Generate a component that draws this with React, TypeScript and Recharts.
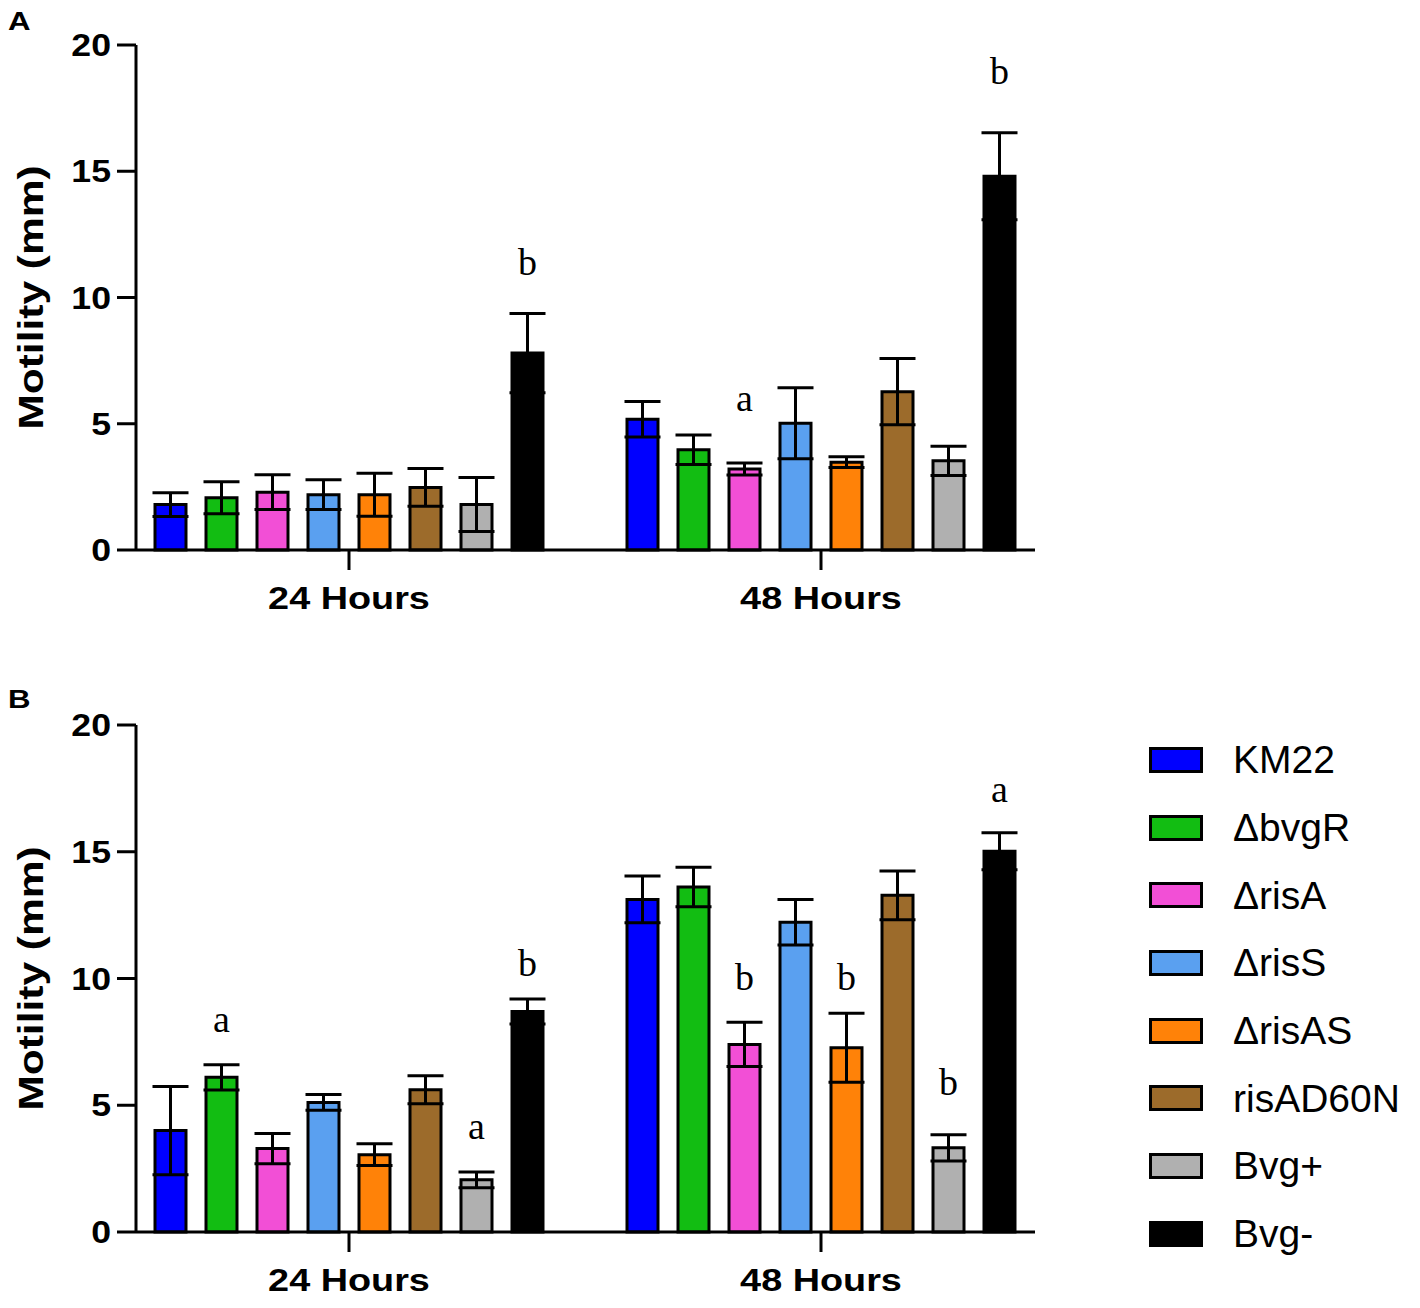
import React from "react";
import { BarChart, Bar, XAxis, YAxis, ErrorBar, Legend } from "recharts";

const CATEGORIES = ["24 Hours", "48 Hours"];
const STRAINS = ["KM22", "ΔbvgR", "ΔrisA", "ΔrisS", "ΔrisAS", "risAD60N", "Bvg+", "Bvg-"];
const COLORS = ["#0000ff", "#12bd12", "#f24fd6", "#5aa0f0", "#ff8208", "#9c6b2b", "#b0b0b0", "#000000"];
const Y_TICKS = [0, 5, 10, 15, 20];

// panel A: mean per strain [24h, 48h]
const MEANS_A = [
  [1.8, 5.18],
  [2.07, 3.97],
  [2.29, 3.21],
  [2.19, 5.02],
  [2.19, 3.48],
  [2.48, 6.27],
  [1.8, 3.53],
  [7.8, 14.8],
];
const ERRS_A = [
  [0.47, 0.7],
  [0.63, 0.58],
  [0.69, 0.24],
  [0.59, 1.41],
  [0.85, 0.21],
  [0.75, 1.31],
  [1.07, 0.58],
  [1.57, 1.72],
];
// significance letters: strain index, category index, letter, baseline height
const SIGS_A = [
  { s: 7, c: 0, letter: "b", at: 10.9 },
  { s: 2, c: 1, letter: "a", at: 5.49 },
  { s: 7, c: 1, letter: "b", at: 18.44 },
];

// panel B
const MEANS_B = [
  [4.0, 13.12],
  [6.1, 13.61],
  [3.29, 7.4],
  [5.11, 12.22],
  [3.05, 7.27],
  [5.61, 13.28],
  [2.06, 3.32],
  [8.7, 15.02],
];
const ERRS_B = [
  [1.74, 0.92],
  [0.5, 0.78],
  [0.6, 0.87],
  [0.31, 0.9],
  [0.43, 1.36],
  [0.55, 0.96],
  [0.31, 0.52],
  [0.49, 0.73],
];
const SIGS_B = [
  { s: 1, c: 0, letter: "a", at: 7.87 },
  { s: 6, c: 0, letter: "a", at: 3.65 },
  { s: 7, c: 0, letter: "b", at: 10.09 },
  { s: 2, c: 1, letter: "b", at: 9.53 },
  { s: 4, c: 1, letter: "b", at: 9.53 },
  { s: 6, c: 1, letter: "b", at: 5.42 },
  { s: 7, c: 1, letter: "a", at: 16.96 },
];

const SANS = "'Liberation Sans', Arial, Helvetica, sans-serif";
const SERIF = "'Liberation Serif', 'Times New Roman', serif";

const buildRows = (means: number[][], errs: number[][]) =>
  CATEGORIES.map((category, ci) => {
    const row: Record<string, any> = { category };
    STRAINS.forEach((_, si) => {
      row[`m${si}`] = means[si][ci];
      row[`e${si}`] = errs[si][ci];
    });
    return row;
  });

const YTick = ({ x, y, payload }: any) => (
  <g transform={`translate(${x},${y})`}>
    <text
      transform="scale(1.15,1)"
      textAnchor="end"
      dy={11}
      fontSize={31}
      fontWeight="bold"
      fontFamily={SANS}
      fill="#000"
    >
      {payload.value}
    </text>
  </g>
);

const XTick = ({ x, y, payload }: any) => (
  <g transform={`translate(${x},${y})`}>
    <text
      transform="scale(1.22,1)"
      textAnchor="middle"
      y={37}
      fontSize={31}
      fontWeight="bold"
      fontFamily={SANS}
      fill="#000"
    >
      {payload.value}
    </text>
  </g>
);

const LegendBox = () => (
  <div style={{ display: "flex", flexDirection: "column" }}>
    {STRAINS.map((s, i) => (
      <div key={s} style={{ height: 67.7, display: "flex", alignItems: "center" }}>
        <div
          style={{
            width: 48,
            height: 20,
            background: COLORS[i],
            border: "3px solid #000",
          }}
        />
        <span
          style={{
            marginLeft: 30,
            fontSize: 39,
            lineHeight: 1,
            fontFamily: SANS,
            color: "#000",
          }}
        >
          {s}
        </span>
      </div>
    ))}
  </div>
);

interface PanelProps {
  means: number[][];
  errs: number[][];
  sigs: { s: number; c: number; letter: string; at: number }[];
  height: number;
  plotH: number;
  showLegend?: boolean;
}

const TOP = 45;

const Panel: React.FC<PanelProps> = ({ means, errs, sigs, height, plotH, showLegend }) => {
  const data = buildRows(means, errs);
  const ppu = plotH / 20;

  const sigLabel = (si: number) => (props: any) => {
    const vb = props.viewBox || props;
    const x = vb.x ?? props.x;
    const y = vb.y ?? props.y;
    const w = vb.width ?? props.width;
    const h = vb.height ?? props.height;
    const sig = sigs.find((g) => g.s === si && g.c === props.index);
    if (!sig) return null;
    const zeroY = y + h;
    return (
      <text
        x={x + w / 2}
        y={zeroY - sig.at * ppu}
        textAnchor="middle"
        fontSize={38}
        fontFamily={SERIF}
        fill="#000"
      >
        {sig.letter}
      </text>
    );
  };

  return (
    <BarChart
      width={1420}
      height={height}
      data={data}
      barGap={20}
      margin={{ top: TOP, right: 385, left: 0, bottom: height - TOP - plotH - 70 }}
    >
      <XAxis
        dataKey="category"
        height={70}
        padding={{ left: -23, right: -22 }}
        axisLine={{ stroke: "#000", strokeWidth: 3 }}
        tickLine={{ stroke: "#000", strokeWidth: 3 }}
        tickSize={20}
        tickMargin={2}
        tick={<XTick />}
      />
      <YAxis
        width={136}
        domain={[0, 20]}
        ticks={Y_TICKS}
        axisLine={{ stroke: "#000", strokeWidth: 3 }}
        tickLine={{ stroke: "#000", strokeWidth: 3 }}
        tickSize={19}
        tickMargin={6}
        tick={<YTick />}
        label={{
          content: () => (
            <text
              transform={`translate(43,${TOP + plotH / 2}) rotate(-90) scale(1.18,1)`}
              textAnchor="middle"
              fontSize={36}
              fontWeight="bold"
              fontFamily={SANS}
              fill="#000"
            >
              Motility (mm)
            </text>
          ),
        }}
      />
      {showLegend && (
        <Legend
          layout="vertical"
          align="center"
          verticalAlign="middle"
          content={<LegendBox />}
          wrapperStyle={{ left: 1149, top: 46, width: 271 }}
        />
      )}
      {STRAINS.map((s, si) => (
        <Bar
          key={s}
          dataKey={`m${si}`}
          name={s}
          fill={COLORS[si]}
          stroke="#000"
          strokeWidth={3}
          barSize={31}
          isAnimationActive={false}
          label={sigLabel(si)}
        >
          <ErrorBar
            dataKey={`e${si}`}
            direction="y"
            width={18}
            stroke="#000"
            strokeWidth={3}
            isAnimationActive={false}
          />
        </Bar>
      ))}
    </BarChart>
  );
};

export default function App() {
  return (
    <div
      style={{
        position: "absolute",
        left: 0,
        top: 0,
        width: 1420,
        height: 1308,
        background: "#fff",
        overflow: "hidden",
      }}
    >
      <div style={{ position: "absolute", left: 0, top: 0 }}>
        <Panel means={MEANS_A} errs={ERRS_A} sigs={SIGS_A} height={660} plotH={505} />
      </div>
      <div style={{ position: "absolute", left: 0, top: 680 }}>
        <Panel means={MEANS_B} errs={ERRS_B} sigs={SIGS_B} height={628} plotH={507} showLegend />
      </div>
      <svg
        width={1420}
        height={1308}
        style={{ position: "absolute", left: 0, top: 0, pointerEvents: "none" }}
      >
        <text
          transform="translate(8,30) scale(1.2,1)"
          fontSize={26}
          fontWeight="bold"
          fontFamily={SANS}
          fill="#000"
        >
          A
        </text>
        <text
          transform="translate(8,708) scale(1.2,1)"
          fontSize={26}
          fontWeight="bold"
          fontFamily={SANS}
          fill="#000"
        >
          B
        </text>
      </svg>
    </div>
  );
}
